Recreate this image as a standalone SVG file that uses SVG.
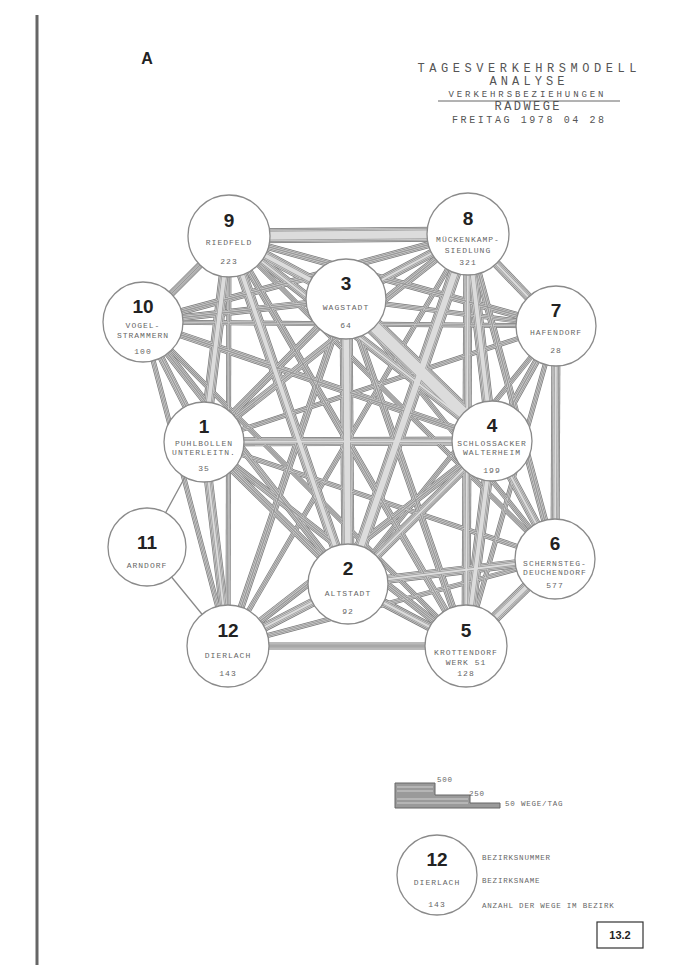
<svg xmlns="http://www.w3.org/2000/svg" xmlns:xlink="http://www.w3.org/1999/xlink" width="687" height="975" viewBox="0 0 687 975">
<style>
.num{font-family:"Liberation Sans",Arial,sans-serif;font-weight:bold;font-size:19px;fill:#222;text-anchor:middle}
.lbl{font-family:"Liberation Mono","DejaVu Sans Mono",monospace;font-size:8px;letter-spacing:1px;fill:#666;text-anchor:middle}
.ttl{font-family:"Liberation Mono","DejaVu Sans Mono",monospace;fill:#555;text-anchor:middle}
.leg{font-family:"Liberation Mono","DejaVu Sans Mono",monospace;font-size:7.5px;letter-spacing:0.8px;fill:#666}
.node circle{fill:#fff;stroke:#8a8a8a;stroke-width:1.3}
#E path{fill:none}
.w4{stroke-width:calc(5px - var(--k,0px))}
.w6{stroke-width:calc(7px - var(--k,0px))}
.w8{stroke-width:calc(9px - var(--k,0px))}
.w10{stroke-width:calc(11px - var(--k,0px))}
.w12{stroke-width:calc(13px - var(--k,0px))}
.w14{stroke-width:calc(15px - var(--k,0px))}
.w16{stroke-width:calc(18px - var(--k,0px))}
.p1{--k:0px;stroke:#777}
.p2{--k:1.4px;stroke:#cfcfcf}
.p3{--k:2.8px;stroke:#8a8a8a}
.p4{--k:4.2px;stroke:#d6d6d6}
.p5{--k:5.6px;stroke:#999}
.p6{--k:7px;stroke:#dcdcdc}
.thin{stroke:#8a8a8a;stroke-width:1.3;fill:none}
</style>
<defs>
<g id="E">
<path class="w14" d="M229 236L468 234"/>
<path class="w10" d="M229 236L346 299"/>
<path class="w6" d="M229 236L556 326"/>
<path class="w6" d="M229 236L143 322"/>
<path class="w10" d="M229 236L204 442"/>
<path class="w10" d="M229 236L348 584"/>
<path class="w8" d="M229 236L492 441"/>
<path class="w4" d="M229 236L228 646"/>
<path class="w6" d="M229 236L466 646"/>
<path class="w4" d="M229 236L555 559"/>
<path class="w8" d="M468 234L346 299"/>
<path class="w8" d="M468 234L556 326"/>
<path class="w6" d="M468 234L143 322"/>
<path class="w6" d="M468 234L204 442"/>
<path class="w10" d="M468 234L492 441"/>
<path class="w12" d="M468 234L348 584"/>
<path class="w8" d="M468 234L466 646"/>
<path class="w6" d="M468 234L555 559"/>
<path class="w4" d="M468 234L228 646"/>
<path class="w12" d="M346 299L348 584"/>
<path class="w16" d="M346 299L492 441"/>
<path class="w6" d="M346 299L143 322"/>
<path class="w4" d="M346 299L556 326"/>
<path class="w6" d="M346 299L204 442"/>
<path class="w6" d="M346 299L228 646"/>
<path class="w6" d="M346 299L466 646"/>
<path class="w4" d="M346 299L555 559"/>
<path class="w6" d="M143 322L204 442"/>
<path class="w6" d="M143 322L492 441"/>
<path class="w4" d="M143 322L556 326"/>
<path class="w6" d="M143 322L348 584"/>
<path class="w4" d="M143 322L466 646"/>
<path class="w4" d="M143 322L228 646"/>
<path class="w6" d="M556 326L492 441"/>
<path class="w8" d="M556 326L555 559"/>
<path class="w4" d="M556 326L204 442"/>
<path class="w4" d="M556 326L348 584"/>
<path class="w4" d="M556 326L466 646"/>
<path class="w8" d="M204 442L492 441"/>
<path class="w6" d="M204 442L348 584"/>
<path class="w8" d="M204 442L228 646"/>
<path class="w6" d="M204 442L466 646"/>
<path class="w4" d="M204 442L555 559"/>
<path class="w8" d="M492 441L348 584"/>
<path class="w10" d="M492 441L466 646"/>
<path class="w8" d="M492 441L555 559"/>
<path class="w6" d="M492 441L228 646"/>
<path class="w8" d="M348 584L228 646"/>
<path class="w8" d="M348 584L466 646"/>
<path class="w8" d="M348 584L555 559"/>
<path class="w4" d="M555 559L228 646"/>
<path class="w6" d="M228 646L466 646"/>
<path class="w10" d="M466 646L555 559"/>
</g>
</defs>
<rect width="687" height="975" fill="#fff"/>
<line x1="37" y1="15" x2="37" y2="965" stroke="#666" stroke-width="3"/>
<text x="147" y="64" font-family="Liberation Sans,Arial,sans-serif" font-weight="bold" font-size="16" fill="#222" text-anchor="middle">A</text>
<g id="title">
<text class="ttl" x="527" y="72" font-size="12" textLength="219" lengthAdjust="spacing">TAGESVERKEHRSMODELL</text>
<text class="ttl" x="527" y="85" font-size="12" textLength="75" lengthAdjust="spacing">ANALYSE</text>
<text class="ttl" x="526" y="97" font-size="9" textLength="155" lengthAdjust="spacing">VERKEHRSBEZIEHUNGEN</text>
<line x1="438" y1="101" x2="620" y2="101" stroke="#666" stroke-width="1"/>
<text class="ttl" x="527" y="110" font-size="12" textLength="65" lengthAdjust="spacing">RADWEGE</text>
<text class="ttl" x="528" y="123" font-size="10" textLength="152" lengthAdjust="spacing">FREITAG 1978 04 28</text>
</g>
<g id="connectors" fill="none">
<use href="#E" class="p1"/>
<use href="#E" class="p2"/>
<use href="#E" class="p3"/>
<use href="#E" class="p4"/>
<use href="#E" class="p5"/>
<use href="#E" class="p6"/>
<path class="thin" d="M204 442L147 547M147 547L228 646"/>
</g>
<g id="n9" class="node"><circle cx="229" cy="236" r="41"/><text class="num" x="229" y="227">9</text><text class="lbl" x="229" y="245">RIEDFELD</text><text class="lbl" x="229" y="264">223</text></g>
<g id="n8" class="node"><circle cx="468" cy="234" r="41"/><text class="num" x="468" y="225">8</text><text class="lbl" x="468" y="242">MÜCKENKAMP-</text><text class="lbl" x="468" y="253">SIEDLUNG</text><text class="lbl" x="468" y="265">321</text></g>
<g id="n3" class="node"><circle cx="346" cy="299" r="40"/><text class="num" x="346" y="290">3</text><text class="lbl" x="346" y="310">WAGSTADT</text><text class="lbl" x="346" y="328">64</text></g>
<g id="n10" class="node"><circle cx="143" cy="322" r="40"/><text class="num" x="143" y="313">10</text><text class="lbl" x="143" y="328">VOGEL-</text><text class="lbl" x="143" y="338">STRAMMERN</text><text class="lbl" x="143" y="354">100</text></g>
<g id="n7" class="node"><circle cx="556" cy="326" r="40"/><text class="num" x="556" y="317">7</text><text class="lbl" x="556" y="335">HAFENDORF</text><text class="lbl" x="556" y="353">28</text></g>
<g id="n1" class="node"><circle cx="204" cy="442" r="40"/><text class="num" x="204" y="433">1</text><text class="lbl" x="204" y="446">PUHLBOLLEN</text><text class="lbl" x="204" y="455">UNTERLEITN.</text><text class="lbl" x="204" y="471">35</text></g>
<g id="n4" class="node"><circle cx="492" cy="441" r="40"/><text class="num" x="492" y="432">4</text><text class="lbl" x="492" y="446">SCHLOSSACKER</text><text class="lbl" x="492" y="455">WALTERHEIM</text><text class="lbl" x="492" y="473">199</text></g>
<g id="n11" class="node"><circle cx="147" cy="547" r="39"/><text class="num" x="147" y="549">11</text><text class="lbl" x="147" y="568">ARNDORF</text></g>
<g id="n6" class="node"><circle cx="555" cy="559" r="40"/><text class="num" x="555" y="550">6</text><text class="lbl" x="555" y="566">SCHERNSTEG-</text><text class="lbl" x="555" y="575">DEUCHENDORF</text><text class="lbl" x="555" y="588">577</text></g>
<g id="n2" class="node"><circle cx="348" cy="584" r="40"/><text class="num" x="348" y="575">2</text><text class="lbl" x="348" y="596">ALTSTADT</text><text class="lbl" x="348" y="614">92</text></g>
<g id="n12" class="node"><circle cx="228" cy="646" r="41"/><text class="num" x="228" y="637">12</text><text class="lbl" x="228" y="658">DIERLACH</text><text class="lbl" x="228" y="676">143</text></g>
<g id="n5" class="node"><circle cx="466" cy="646" r="41"/><text class="num" x="466" y="637">5</text><text class="lbl" x="466" y="655">KROTTENDORF</text><text class="lbl" x="466" y="665">WERK 51</text><text class="lbl" x="466" y="676">128</text></g>
<g id="legend">
<path d="M395 783H435V795H470V803H500V808H395Z" fill="#9a9a9a" stroke="#666" stroke-width="1"/>
<path d="M397 787H433M397 791H433M397 799H468M397 803H468" stroke="#d0d0d0" stroke-width="1"/>
<text class="leg" x="437" y="782">500</text>
<text class="leg" x="469" y="796">250</text>
<text class="leg" x="505" y="806">50 WEGE/TAG</text>
<g id="legnode" class="node"><circle cx="437" cy="875" r="40"/><text class="num" x="437" y="866">12</text><text class="lbl" x="437" y="885">DIERLACH</text><text class="lbl" x="437" y="907">143</text></g>
<text class="leg" x="482" y="860">BEZIRKSNUMMER</text>
<text class="leg" x="482" y="883">BEZIRKSNAME</text>
<text class="leg" x="482" y="908">ANZAHL DER WEGE IM BEZIRK</text>
</g>
<g id="pagebox"><rect x="597" y="922" width="46" height="26" fill="#fff" stroke="#333" stroke-width="1.2"/><text x="620" y="939" font-family="Liberation Sans,Arial,sans-serif" font-weight="bold" font-size="11" fill="#222" text-anchor="middle">13.2</text></g>
</svg>
